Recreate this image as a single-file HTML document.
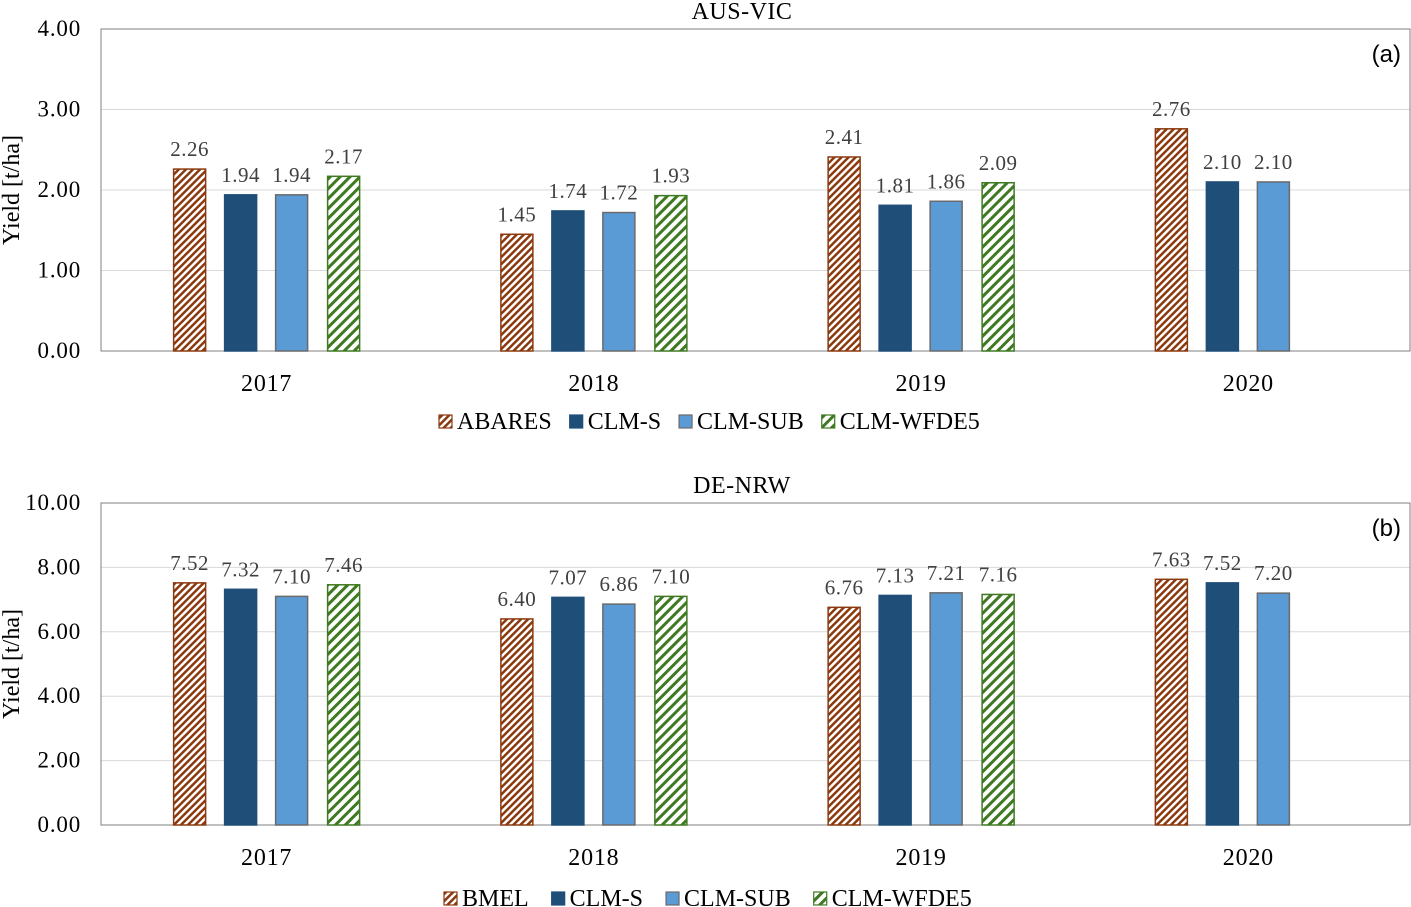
<!DOCTYPE html>
<html><head><meta charset="utf-8"><style>
body{margin:0;background:#fff}
svg{display:block;font-family:"Liberation Serif",serif}
</style></head><body>
<svg id="c" width="1411" height="907">
<defs>
<pattern id="hb" patternUnits="userSpaceOnUse" width="5" height="5" patternTransform="rotate(45)">
<rect width="5" height="5" fill="#fff"/><rect width="2.5" height="5" fill="#8B3A0F"/></pattern>
<pattern id="hg" patternUnits="userSpaceOnUse" width="7" height="7" patternTransform="rotate(45)">
<rect width="7" height="7" fill="#fff"/><rect width="3" height="7" fill="#3F7A22"/></pattern>
</defs>
</svg>
<script>
const years=["2017","2018","2019","2020"];
const vicRef=[2.26,1.45,2.41,2.76];
const vicS=[1.94,1.74,1.81,2.10];
const vicSub=[1.94,1.72,1.86,2.10];
const vicW=[2.17,1.93,2.09,null];
const nrwRef=[7.52,6.40,6.76,7.63];
const nrwS=[7.32,7.07,7.13,7.52];
const nrwSub=[7.10,6.86,7.21,7.20];
const nrwW=[7.46,7.10,7.16,null];
const vicTicks=[0,1,2,3,4];
const nrwTicks=[0,2,4,6,8,10];
const svg=document.getElementById('c');
const NS='http://www.w3.org/2000/svg';
function mk(t,a,txt){const e=document.createElementNS(NS,t);for(const k in a)e.setAttribute(k,a[k]);if(txt!=null)e.textContent=txt;svg.appendChild(e);return e;}
function panel(o){
const x0=101,x1=1410,yT=o.top,yB=o.top+322,max=o.ticks[o.ticks.length-1];
const y=v=>yB-v/max*(yB-yT);
const bw=(x1-x0)/years.length;
const xc=i=>x0+2+bw*(i+0.5);
o.ticks.forEach(t=>{
 if(t>0){const g=mk('line',{x1:x0,x2:x1,y1:y(t),y2:y(t),stroke:'#d9d9d9','stroke-width':1});}
 const l=mk('text',{x:x0-20,y:y(t)+7,'text-anchor':'end','font-size':23,'letter-spacing':0.8,fill:'#000'},t.toFixed(2));
 
});
const fr=mk('rect',{x:x0,y:yT,width:x1-x0,height:yB-yT,fill:'none',stroke:'#808080','stroke-width':1});

const series=[[o.ref,'url(#hb)','#8B3A0F'],[o.s,'#1F4E79','#1F4E79'],[o.sub,'#5B9BD5','#6a6a6a'],[o.w,'url(#hg)','#3F7A22']];
const offs=[-77,-26,25,77];
years.forEach((yr,i)=>{
 series.forEach((s,k)=>{
  const v=s[0][i];if(v==null)return;
  const cx=xc(i)+offs[k];
  const r=mk('rect',{x:cx-16,y:y(v),width:32,height:yB-y(v),fill:s[1],stroke:s[2],'stroke-width':1.5});
  
  
  const t=mk('text',{x:cx,y:y(v)-13,'text-anchor':'middle','font-size':21,'letter-spacing':0.5,fill:'#404040'},v.toFixed(2));
  
 });
 const xl=mk('text',{x:xc(i),y:yB+40,'text-anchor':'middle','font-size':24,'letter-spacing':0.8},yr);
 
});
const ti=mk('text',{x:742,y:yT-10,'text-anchor':'middle','font-size':24,'letter-spacing':0.5},o.title);

const pl=mk('text',{x:1401,y:yT+33,'text-anchor':'end','font-size':24,'font-family':'Liberation Sans, sans-serif'},o.tag);

const ya=mk('text',{x:0,y:0,'text-anchor':'middle','font-size':24,transform:`translate(19,${(yT+yB)/2}) rotate(-90)`},'Yield [t/ha]');

let lx=o.legX;const ly=o.legY;
o.names.forEach((n,k)=>{
 const sw=mk('rect',{x:lx,y:ly-13,width:13,height:13,fill:series[k][1],stroke:series[k][2],'stroke-width':1.2});
 
 const t=mk('text',{x:lx+18,y:ly+1,'font-size':24},n);
 
 lx+=18+t.getComputedTextLength()+o.gap;
});
}
panel({top:29,ticks:vicTicks,ref:vicRef,s:vicS,sub:vicSub,w:vicW,title:'AUS-VIC',tag:'(a)',names:['ABARES','CLM-S','CLM-SUB','CLM-WFDE5'],legX:439,legY:428,gap:18});
panel({top:503,ticks:nrwTicks,ref:nrwRef,s:nrwS,sub:nrwSub,w:nrwW,title:'DE-NRW',tag:'(b)',names:['BMEL','CLM-S','CLM-SUB','CLM-WFDE5'],legX:444,legY:905,gap:23});
</script>
</body></html>
